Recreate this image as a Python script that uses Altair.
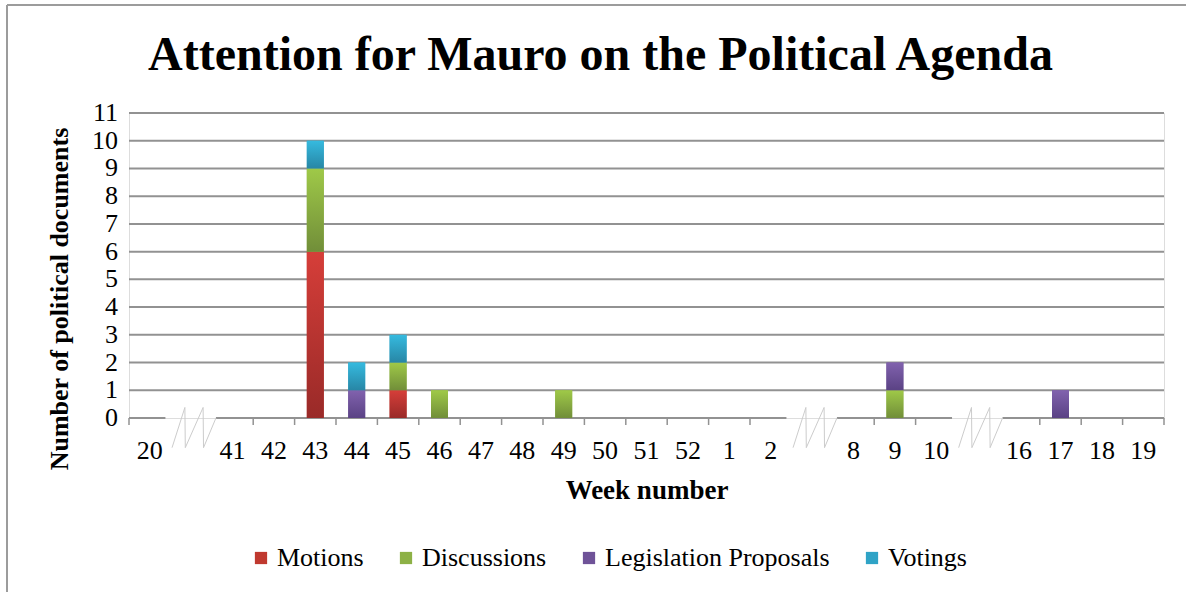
import altair as alt
import pandas as pd

# ---------------- data ----------------
weeks = ["20", "b1", "41", "42", "43", "44", "45", "46", "47", "48", "49", "50",
         "51", "52", "1", "2", "b2", "8", "9", "10", "b3", "16", "17", "18", "19"]
series = ["Motions", "Discussions", "Legislation Proposals", "Votings"]
motions     = [0, 0, 0, 0, 6, 0, 1, 0, 0, 0, 0, 0, 0, 0, 0, 0, 0, 0, 0, 0, 0, 0, 0, 0, 0]
discussions = [0, 0, 0, 0, 3, 0, 1, 1, 0, 0, 1, 0, 0, 0, 0, 0, 0, 0, 1, 0, 0, 0, 0, 0, 0]
legislation = [0, 0, 0, 0, 0, 1, 0, 0, 0, 0, 0, 0, 0, 0, 0, 0, 0, 0, 1, 0, 0, 0, 1, 0, 0]
votings     = [0, 0, 0, 0, 1, 1, 1, 0, 0, 0, 0, 0, 0, 0, 0, 0, 0, 0, 0, 0, 0, 0, 0, 0, 0]
y_ticks = list(range(0, 12))
y_title = "Number of political documents"

solid_colors = ["#C0392F", "#8DB146", "#6F5398", "#2FA3C6"]
grad_top = ["#D63E39", "#9FC948", "#8162AE", "#35BADF"]
grad_bot = ["#992A28", "#718E39", "#5A4284", "#2886A5"]

W, H = 1035, 305
FONT = "Liberation Serif"
GRID = "#929292"

rows = []
for s_i, (name, vals) in enumerate(zip(series, [motions, discussions, legislation, votings])):
    for w, v in zip(weeks, vals):
        if v > 0:
            rows.append({"week": w, "type": name, "count": v, "order": s_i})
df = pd.DataFrame(rows)

# decoration data (axis with breaks), in category-index units
n = len(weeks)
is_break = [w.startswith("b") for w in weeks]
tick_pos = []
for i in range(n + 1):
    left_b = is_break[i - 1] if i > 0 else False
    right_b = is_break[i] if i < n else False
    if not left_b and not right_b:
        tick_pos.append(i)
break_centers = [i + 0.5 for i, b in enumerate(is_break) if b]
seg_rows = []
start = 0.0
for c in break_centers:
    seg_rows.append({"s": start, "e": c - 0.62})
    start = c + 0.6
seg_rows.append({"s": start, "e": float(n)})
zig_shape_x = [-0.46, -0.15, -0.14, 0.29, 0.30, 0.60]
zig_shape_y = [-1.07, 0.38, -1.07, 0.38, -1.07, 0.0]
zig_rows = []
for b_i, c in enumerate(break_centers):
    for k, (dx, dy) in enumerate(zip(zig_shape_x, zig_shape_y)):
        zig_rows.append({"b": b_i, "k": k, "zx": c + dx, "zy": dy})

lin = alt.Scale(domain=[0, n], nice=False, zero=False)
yscale = alt.Scale(domain=[0, 11], nice=False)
band = alt.Scale(domain=weeks, paddingInner=0.59, paddingOuter=0.295)

yaxis = alt.Axis(orient="left", values=y_ticks, grid=False, domainColor=GRID, domainWidth=2,
                 tickColor=GRID, tickSize=8, labels=False, title=None)

# frame
frame_top = alt.Chart(pd.DataFrame({"a": [0]})).mark_rule(color="#9c9c9c", strokeWidth=2).encode(
    x=alt.value(-122), x2=alt.value(1186), y=alt.value(-108))
frame_left = alt.Chart(pd.DataFrame({"a": [0]})).mark_rule(color="#9c9c9c", strokeWidth=2).encode(
    x=alt.value(-122), y=alt.value(-108), y2=alt.value(600))

grid = alt.Chart(pd.DataFrame({"g": y_ticks[1:]})).mark_rule(color=GRID, strokeWidth=2).encode(
    y=alt.Y("g:Q", scale=yscale, axis=yaxis), x=alt.value(0), x2=alt.value(W))

ylabels = alt.Chart(pd.DataFrame({"v": y_ticks})).mark_text(
    font=FONT, fontSize=26, color="black", align="right", baseline="middle").encode(
    y=alt.Y("v:Q", scale=yscale, axis=None), x=alt.value(-11), text="v:Q")

ytitle = alt.Chart(pd.DataFrame({"t": [y_title]})).mark_text(
    font=FONT, fontSize=26, fontWeight="bold", color="black", angle=270,
    align="center", baseline="middle").encode(
    x=alt.value(-69), y=alt.value(186), text="t:N")

segs = alt.Chart(pd.DataFrame(seg_rows)).mark_rule(color=GRID, strokeWidth=2).encode(
    x=alt.X("s:Q", scale=lin, axis=None), x2="e:Q", y=alt.value(H))

ticks = alt.Chart(pd.DataFrame({"t": tick_pos})).mark_rule(color=GRID, strokeWidth=1.5).encode(
    x=alt.X("t:Q", scale=lin, axis=None), y=alt.value(H), y2=alt.value(H + 7))

zig = alt.Chart(pd.DataFrame(zig_rows)).mark_line(color="#cccccc", strokeWidth=1).encode(
    x=alt.X("zx:Q", scale=lin, axis=None),
    y=alt.Y("zy:Q", scale=yscale, axis=None),
    detail="b:N", order="k:Q")

base = alt.Chart(df).transform_stack(
    stack="count", groupby=["week"], as_=["y0", "y1"],
    sort=[alt.SortField("order", order="ascending")])

solid = base.mark_bar().encode(
    x=alt.X("week:N", scale=band, sort=weeks,
            axis=alt.Axis(domain=False, ticks=False, grid=False,
                          labelExpr="slice(datum.value,0,1)=='b' ? '' : datum.value",
                          labelAngle=0, labelFont=FONT, labelFontSize=26, labelColor="black",
                          labelPadding=19, title="Week number", titleFont=FONT,
                          titleFontSize=27, titleFontWeight="bold", titleColor="black",
                          titleY=72, titleBaseline="middle")),
    y=alt.Y("y1:Q", scale=yscale, axis=None),
    y2="y0:Q",
    color=alt.Color("type:N", scale=alt.Scale(domain=series, range=solid_colors),
                    legend=alt.Legend(orient="none", legendX=119, legendY=432,
                                      direction="horizontal", title=None,
                                      symbolType="square", symbolSize=150,
                                      symbolStrokeWidth=0, labelFont=FONT,
                                      labelFontSize=26, labelColor="black", labelLimit=500,
                                      labelOffset=3, columnPadding=29)),
)

grad_layers = []
for s_i, name in enumerate(series):
    g = alt.Gradient(gradient="linear",
                     stops=[alt.GradientStop(color=grad_top[s_i], offset=0),
                            alt.GradientStop(color=grad_bot[s_i], offset=1)],
                     x1=0, x2=0, y1=0, y2=1)
    grad_layers.append(
        base.transform_filter(alt.datum.type == name).mark_bar(color=g).encode(
            x=alt.X("week:N", scale=band, sort=weeks, axis=None),
            y=alt.Y("y1:Q", scale=yscale, axis=None),
            y2="y0:Q"))

chart = alt.layer(grid, frame_top, frame_left, ylabels, ytitle, segs, ticks, zig, solid,
                  *grad_layers).resolve_scale(
    x="independent"
).properties(
    width=W, height=H,
    title=alt.Title("Attention for Mauro on the Political Agenda", font=FONT, fontSize=48,
                    fontWeight="bold", color="black", anchor="middle", dx=-46,
                    baseline="alphabetic", offset=-114),
    autosize=alt.AutoSizeParams(type="none"),
    padding={"left": 129, "top": 113, "right": 22, "bottom": 174},
).configure_view(stroke=None).configure(background="white")

chart.save("out.html", embed_options={"renderer": "svg", "actions": False})
